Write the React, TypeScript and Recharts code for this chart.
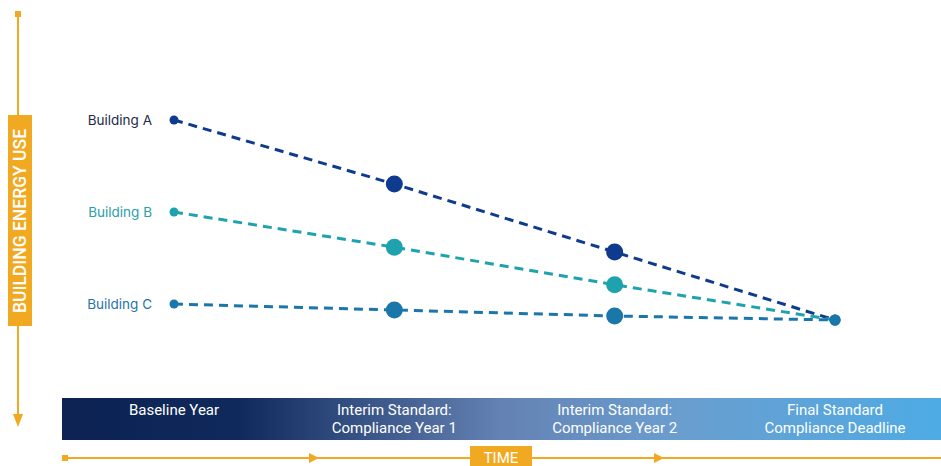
import React from 'react'
import { LineChart, Line, XAxis, YAxis } from 'recharts'

const stages = ['Baseline Year', 'Interim Standard:\nCompliance Year 1', 'Interim Standard:\nCompliance Year 2', 'Final Standard\nCompliance Deadline']
const buildingA = [75, 59, 42, 25]
const buildingB = [52, 43.2, 33.8, 25]
const buildingC = [29, 27.5, 26, 25]

const series = [
  { key: 'a', name: 'Building A', color: '#0f3b8e', label: '#1e2a4a' },
  { key: 'b', name: 'Building B', color: '#1ea3ae', label: '#2aa0aa' },
  { key: 'c', name: 'Building C', color: '#1b76aa', label: '#1f74a8' },
]

const data = stages.map((stage, i) => ({ stage, a: buildingA[i], b: buildingB[i], c: buildingC[i] }))

const ORANGE = '#f2a922'
const W = 941
const H = 466

const makeDot = (color: string) => (props: any) => {
  const { cx, cy, index } = props
  const r = index === 0 ? 4.5 : index === 3 ? 5.5 : 8.5
  return <circle key={index} cx={cx} cy={cy} r={r} fill={color} />
}

const makeLabel = (name: string, color: string) => (props: any) => {
  const { x, y, index } = props
  if (index !== 0) return null
  return (
    <text x={x - 22} y={y} dy={4.5} textAnchor="end" fontSize={13.5} fill={color} fontFamily="Inter, 'Noto Sans', sans-serif">
      {name}
    </text>
  )
}

const StageTick = (props: any) => {
  const { x, payload } = props
  const lines = String(payload.value).split('\n')
  return (
    <g>
      {lines.map((l, i) => (
        <text key={i} x={x} y={415 + i * 18} textAnchor="middle" fontSize={15} fill="#fff"
          fontFamily="'Roboto', sans-serif">
          {l}
        </text>
      ))}
    </g>
  )
}

function Backdrop() {
  return (
    <svg width={W} height={H} style={{ position: 'absolute', left: 0, top: 0 }}>
      <defs>
        <linearGradient id="band" x1="0" x2="1" y1="0" y2="0">
          <stop offset="0%" stopColor="#0b2252" />
          <stop offset="20%" stopColor="#10295c" />
          <stop offset="50%" stopColor="#6482b3" />
          <stop offset="70%" stopColor="#6a9ecf" />
          <stop offset="100%" stopColor="#4eabe4" />
        </linearGradient>
      </defs>
      <rect x={62} y={398} width={W - 62} height={42} fill="url(#band)" />
      {/* vertical axis */}
      <rect x={15} y={11} width={6} height={6} fill={ORANGE} />
      <line x1={18} y1={14} x2={18} y2={418} stroke={ORANGE} strokeWidth={2} />
      <polygon points="13,414 23,414 18,427" fill={ORANGE} />
      <rect x={8} y={115} width={24} height={211} fill={ORANGE} />
      <text x={20} y={221} transform="rotate(-90 20 221)" dy={6} textAnchor="middle" fontSize={17.5} fontWeight={500} fill="#fff"
        fontFamily="'Roboto', Arial, sans-serif">BUILDING ENERGY USE</text>
      {/* time axis */}
      <rect x={62} y={455} width={6} height={6} fill={ORANGE} />
      <line x1={64} y1={458} x2={W} y2={458} stroke={ORANGE} strokeWidth={2} />
      <polygon points="309,453 309,463 319,458" fill={ORANGE} />
      <polygon points="654,453 654,463 664,458" fill={ORANGE} />
      <rect x={470} y={446} width={62} height={22} fill={ORANGE} />
      <text x={501} y={463} textAnchor="middle" fontSize={15} fill="#fff"
        fontFamily="'Roboto', sans-serif">TIME</text>
    </svg>
  )
}

export default function App() {
  return (
    <div style={{ position: 'absolute', left: 0, top: 0, width: W, height: H, background: '#fff' }}>
      <Backdrop />
      <div style={{ position: 'absolute', left: 0, top: 0 }}>
        <LineChart width={W} height={H} data={data} margin={{ top: 20, right: 106, left: 174, bottom: 0 }}>
          <XAxis dataKey="stage" axisLine={false} tickLine={false} tick={<StageTick />} interval={0} height={46} />
          <YAxis hide domain={[0, 100]} />
          {series.map(s => (
            <Line
              key={s.key}
              dataKey={s.key}
              name={s.name}
              stroke={s.color}
              strokeWidth={3}
              strokeDasharray="9 6"
              dot={makeDot(s.color)}
              activeDot={false}
              label={makeLabel(s.name, s.label)}
              isAnimationActive={false}
            />
          ))}
        </LineChart>
      </div>
    </div>
  )
}
